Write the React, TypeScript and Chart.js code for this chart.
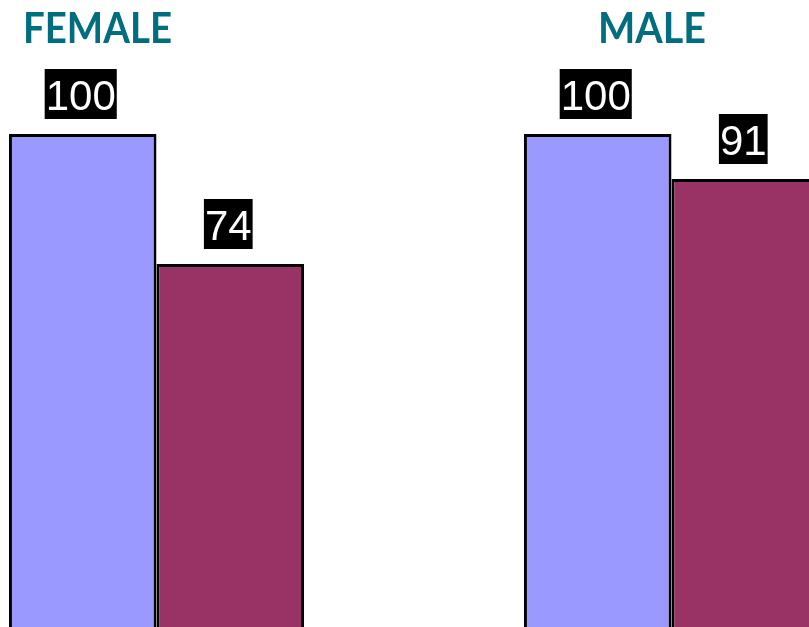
import React, { useEffect, useRef } from "react";
import { Chart, registerables } from "chart.js";

Chart.register(...registerables);

const categories = ["FEMALE", "MALE"];
const seriesA = [100, 100];
const seriesB = [74, 91];
const seriesNames = ["Series A", "Series B"];

const CANVAS_LEFT = -101;
const CANVAS_TOP = -16;

const labelPlugin = {
  id: "boxLabels",
  afterDatasetsDraw(chart: any) {
    const ctx = chart.ctx;
    ctx.save();
    chart.data.datasets.forEach((ds: any, di: number) => {
      const meta = chart.getDatasetMeta(di);
      meta.data.forEach((bar: any, i: number) => {
        const txt = String(ds.data[i]);
        ctx.font = "42px 'Liberation Sans', Arial, sans-serif";
        const w = ctx.measureText(txt).width;
        const cx = bar.x - 2;
        const bottom = bar.y - 15;
        ctx.fillStyle = "#000000";
        ctx.fillRect(cx - w / 2 - 1, bottom - 50, w + 2, 50);
        ctx.fillStyle = "#ffffff";
        ctx.textAlign = "center";
        ctx.textBaseline = "alphabetic";
        ctx.fillText(txt, cx, bottom - 9);
      });
    });
    // group titles
    ctx.font = "bold 42px Lato, 'Open Sans', sans-serif";
    ctx.fillStyle = "#006E7F";
    ctx.textAlign = "left";
    ctx.textBaseline = "alphabetic";
    const titleX = [23, 598];
    const titleW = [149, 108];
    categories.forEach((c, i) => {
      const m = ctx.measureText(c).width;
      ctx.save();
      ctx.translate(titleX[i] - CANVAS_LEFT, 43 - CANVAS_TOP);
      ctx.scale(titleW[i] / m, 1);
      ctx.fillText(c, 0, 0);
      ctx.restore();
    });
    ctx.restore();
  },
};

export default function App() {
  const ref = useRef<HTMLCanvasElement>(null);
  useEffect(() => {
    if (!ref.current) return;
    const chart = new Chart(ref.current, {
      type: "bar",
      data: {
        labels: categories,
        datasets: [
          {
            label: seriesNames[0],
            data: seriesA,
            backgroundColor: "#9999FF",
            borderColor: "#000000",
            borderWidth: 3,
            categoryPercentage: 0.573,
            barPercentage: 1,
          },
          {
            label: seriesNames[1],
            data: seriesB,
            backgroundColor: "#993366",
            borderColor: "#000000",
            borderWidth: 3,
            categoryPercentage: 0.573,
            barPercentage: 1,
          },
        ],
      },
      options: {
        animation: false,
        responsive: false,
        maintainAspectRatio: false,
        layout: { padding: 0 },
        plugins: {
          legend: { display: false },
          tooltip: { enabled: false },
          title: { display: false },
        },
        scales: {
          x: { display: false, offset: true, grid: { display: false } },
          y: { display: false, min: 0, max: 130, grid: { display: false } },
        },
      },
      plugins: [labelPlugin],
    });
    return () => chart.destroy();
  }, []);
  return (
    <div
      style={{
        position: "fixed",
        left: 0,
        top: 0,
        width: 809,
        height: 627,
        overflow: "hidden",
        background: "#ffffff",
      }}
    >
      <canvas
        ref={ref}
        width={1030}
        height={650}
        style={{ position: "absolute", left: CANVAS_LEFT, top: CANVAS_TOP, width: 1030, height: 650 }}
      />
    </div>
  );
}
